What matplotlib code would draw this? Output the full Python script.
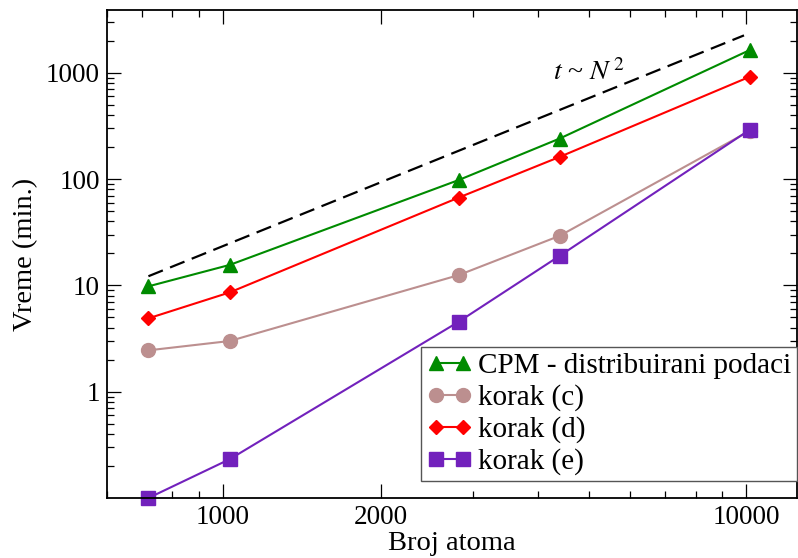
import matplotlib
matplotlib.use("Agg")
import matplotlib.pyplot as plt
from matplotlib.ticker import FixedLocator, LogLocator, NullFormatter, FixedFormatter

# number of atoms
atoms = [720, 1030, 2820, 4400, 10160]

# time in minutes
cpm = [9.8, 15.6, 98, 241, 1640]
korak_c = [2.45, 3.0, 12.5, 29.3, 285]
korak_d = [4.9, 8.6, 67, 162, 920]
korak_e = [0.1, 0.232, 4.55, 19.0, 292]

# t ~ N^2 guide line
ref_x = [720, 9900]
ref_y = [12.2, 2250]

plt.rcParams['font.family'] = ['Liberation Serif', 'DejaVu Serif']
plt.rcParams['mathtext.fontset'] = 'stix'

fig = plt.figure(figsize=(7.98, 5.58), dpi=100)
ax = fig.add_axes([107 / 798, 1 - 498 / 558, (797 - 107) / 798, (498 - 10) / 558])

ax.plot(ref_x, ref_y, color='black', lw=1.6, dashes=(7, 3.5))
ax.plot(atoms, cpm, color='#008b00', lw=1.5, marker='^', ms=10,
        label='CPM - distribuirani podaci', clip_on=False)
ax.plot(atoms, korak_c, color='#bc8f8f', lw=1.5, marker='o', ms=10,
        label='korak (c)', clip_on=False)
ax.plot(atoms, korak_d, color='#ff0000', lw=1.5, marker='D', ms=7,
        label='korak (d)', clip_on=False)
ax.plot(atoms, korak_e, color='#7221bc', lw=1.5, marker='s', ms=9.5,
        label='korak (e)', clip_on=False)

ax.text(4270, 850, r'$t$ ~ $N^{\,2}$', fontsize=20)

ax.set_xscale('log')
ax.set_yscale('log')
ax.set_xlim(600, 12500)
ax.set_ylim(0.1, 3900)

ax.xaxis.set_major_locator(FixedLocator([1000, 2000, 10000]))
ax.xaxis.set_major_formatter(FixedFormatter(['1000', '2000', '10000']))
ax.xaxis.set_minor_locator(LogLocator(base=10, subs=range(2, 10)))
ax.xaxis.set_minor_formatter(NullFormatter())
ax.yaxis.set_major_locator(FixedLocator([1, 10, 100, 1000]))
ax.yaxis.set_major_formatter(FixedFormatter(['1', '10', '100', '1000']))
ax.yaxis.set_minor_locator(LogLocator(base=10, subs=range(2, 10)))
ax.yaxis.set_minor_formatter(NullFormatter())

ax.tick_params(which='both', direction='in', top=True, right=True, width=0.9)
ax.tick_params(which='major', length=10, labelsize=19.5, pad=5)
ax.tick_params(which='minor', length=5)
for s in ax.spines.values():
    s.set_linewidth(1.3)

ax.set_xlabel('Broj atoma', fontsize=20.5, labelpad=1)
ax.set_ylabel('Vreme (min.)', fontsize=20.5, labelpad=6)

leg = ax.legend(loc='lower right', bbox_to_anchor=(1, 17 / 488), borderaxespad=0,
                fontsize=21, numpoints=2, handlelength=1.55, handletextpad=0.2,
                borderpad=0.2, labelspacing=0.17, fancybox=False, framealpha=1)
leg.get_frame().set_edgecolor('#555555')
leg.get_frame().set_linewidth(1.0)

fig.savefig('out.png', dpi=100)
